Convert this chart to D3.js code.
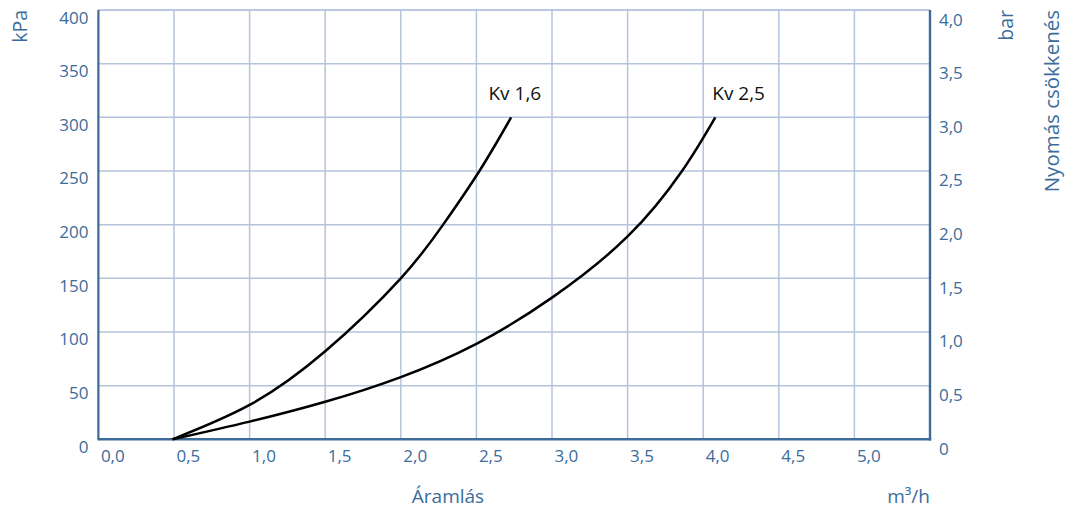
<!DOCTYPE html>
<html>
<head>
<meta charset="utf-8">
<script src="https://cdn.jsdelivr.net/npm/d3@7"></script>
<style>
  body { margin: 0; background: #fff; }
  svg text { font-family: "Open Sans", "DejaVu Sans", sans-serif; }
</style>
</head>
<body>
<div id="chart"></div>
<script>
// flow (m3/h) vs pressure drop (kPa)
const flowTicks = [0, 0.5, 1.0, 1.5, 2.0, 2.5, 3.0, 3.5, 4.0, 4.5, 5.0];
const kpaTicks = [0, 50, 100, 150, 200, 250, 300, 350, 400];
const barTicks = [0, 0.5, 1.0, 1.5, 2.0, 2.5, 3.0, 3.5, 4.0];

const kv16Flow = [0.49, 1.0, 1.5, 2.0, 2.28, 2.52, 2.73];
const kv16Kpa  = [0,    32,  82,  150, 200,  250,  300];

const kv25Flow = [0.49, 1.0,  1.5, 2.0, 2.5, 3.0, 3.5, 3.86, 4.08];
const kv25Kpa  = [0,    16.5, 35,  58,  89,  132, 189, 250,  300];

const seriesNames = ["Kv 1,6", "Kv 2,5"];
const labelFlow = [2.58, 4.06];   // where the label text starts (m3/h)

const W = 1065, H = 511;
const gridColor = "#b5c4dd", axisColor = "#3d6a99", textColor = "#3b6c9c";

const svg = d3.select("#chart").append("svg")
  .attr("width", W).attr("height", H);

const x = d3.scaleLinear().domain([0, 5.5]).range([98.4, 930]);
const y = d3.scaleLinear().domain([0, 400]).range([439.3, 10]);
const yBar = d3.scaleLinear().domain([0, 4]).range([439.3, 10]);

const fmt1 = d3.formatLocale({decimal: ",", thousands: " ", grouping: [3], currency: ["", ""]}).format(".1f");

// grid
svg.append("g").selectAll("line.v")
  .data(flowTicks.filter(d => d > 0))
  .enter().append("line")
  .attr("x1", d => x(d)).attr("x2", d => x(d))
  .attr("y1", y(400)).attr("y2", y(0))
  .style("stroke", gridColor).style("stroke-width", 1.5);

svg.append("g").selectAll("line.h")
  .data(kpaTicks.filter(d => d > 0))
  .enter().append("line")
  .attr("x1", x(0)).attr("x2", x(5.5))
  .attr("y1", d => y(d)).attr("y2", d => y(d))
  .style("stroke", gridColor).style("stroke-width", 1.5);

// axes (labels only, lines drawn below)
const gLeft = svg.append("g")
  .attr("transform", "translate(" + x(0) + ",0)")
  .call(d3.axisLeft(y).tickValues(kpaTicks).tickSize(0).tickPadding(10));
gLeft.selectAll("text").attr("y", 13).attr("dy", 0);

const gRight = svg.append("g")
  .attr("transform", "translate(" + x(5.5) + ",0)")
  .call(d3.axisRight(yBar).tickValues(barTicks).tickSize(0).tickPadding(9)
    .tickFormat(d => d === 0 ? "0" : fmt1(d)));
gRight.selectAll("text").attr("y", 15).attr("dy", 0);

const gBottom = svg.append("g")
  .attr("transform", "translate(0," + y(0) + ")")
  .call(d3.axisBottom(x).tickValues(flowTicks).tickSize(0).tickFormat(fmt1));
gBottom.selectAll("text").attr("x", 2).attr("y", 23).attr("dy", 0)
  .style("text-anchor", "start");

[gLeft, gRight, gBottom].forEach(g => {
  g.select(".domain").remove();
  g.selectAll("text").style("fill", textColor).style("font-size", "17px")
    .style("font-family", "'Open Sans', sans-serif");
});

// frame
svg.append("line").attr("x1", x(0)).attr("x2", x(5.5)).attr("y1", y(400)).attr("y2", y(400))
  .style("stroke", gridColor).style("stroke-width", 1.5);
svg.append("line").attr("x1", x(0)).attr("x2", x(0)).attr("y1", y(400)).attr("y2", y(0))
  .style("stroke", axisColor).style("stroke-width", 2.2);
svg.append("line").attr("x1", x(5.5)).attr("x2", x(5.5)).attr("y1", y(400)).attr("y2", y(0) + 1.2)
  .style("stroke", axisColor).style("stroke-width", 2.4);
svg.append("line").attr("x1", x(0) - 1).attr("x2", x(5.5) + 1.2).attr("y1", y(0)).attr("y2", y(0))
  .style("stroke", axisColor).style("stroke-width", 2.6);

// curves
const line = d3.line().x(d => x(d[0])).y(d => y(d[1])).curve(d3.curveNatural);
const series = [
  d3.zip(kv16Flow, kv16Kpa),
  d3.zip(kv25Flow, kv25Kpa)
];
svg.selectAll("path.curve")
  .data(series).enter().append("path")
  .attr("class", "curve")
  .attr("d", line)
  .style("fill", "none").style("stroke", "#000").style("stroke-width", 2.5);

svg.selectAll("text.kv")
  .data(seriesNames).enter().append("text")
  .attr("x", (d, i) => x(labelFlow[i]))
  .attr("y", y(300) - 17.5)
  .text(d => d)
  .style("font-size", "19px").style("fill", "#111");

// titles
svg.append("text").attr("x", 448).attr("y", 503).attr("text-anchor", "middle")
  .text("Áramlás").style("font-size", "19px").style("fill", textColor);
svg.append("text").attr("x", x(5.5)).attr("y", 503).attr("text-anchor", "end")
  .text("m³/h").style("font-size", "19px").style("fill", textColor);
svg.append("text").attr("transform", "translate(27," + y(400) + ") rotate(-90)")
  .attr("text-anchor", "end").text("kPa").style("font-size", "19.5px").style("fill", textColor);
svg.append("text").attr("transform", "translate(1013," + y(400) + ") rotate(-90)")
  .attr("text-anchor", "end").text("bar").style("font-size", "19.5px").style("fill", textColor);
svg.append("text").attr("transform", "translate(1059," + y(400) + ") rotate(-90)")
  .attr("text-anchor", "end").text("Nyomás csökkenés").style("font-size", "20.5px").style("fill", textColor);
</script>
</body>
</html>
